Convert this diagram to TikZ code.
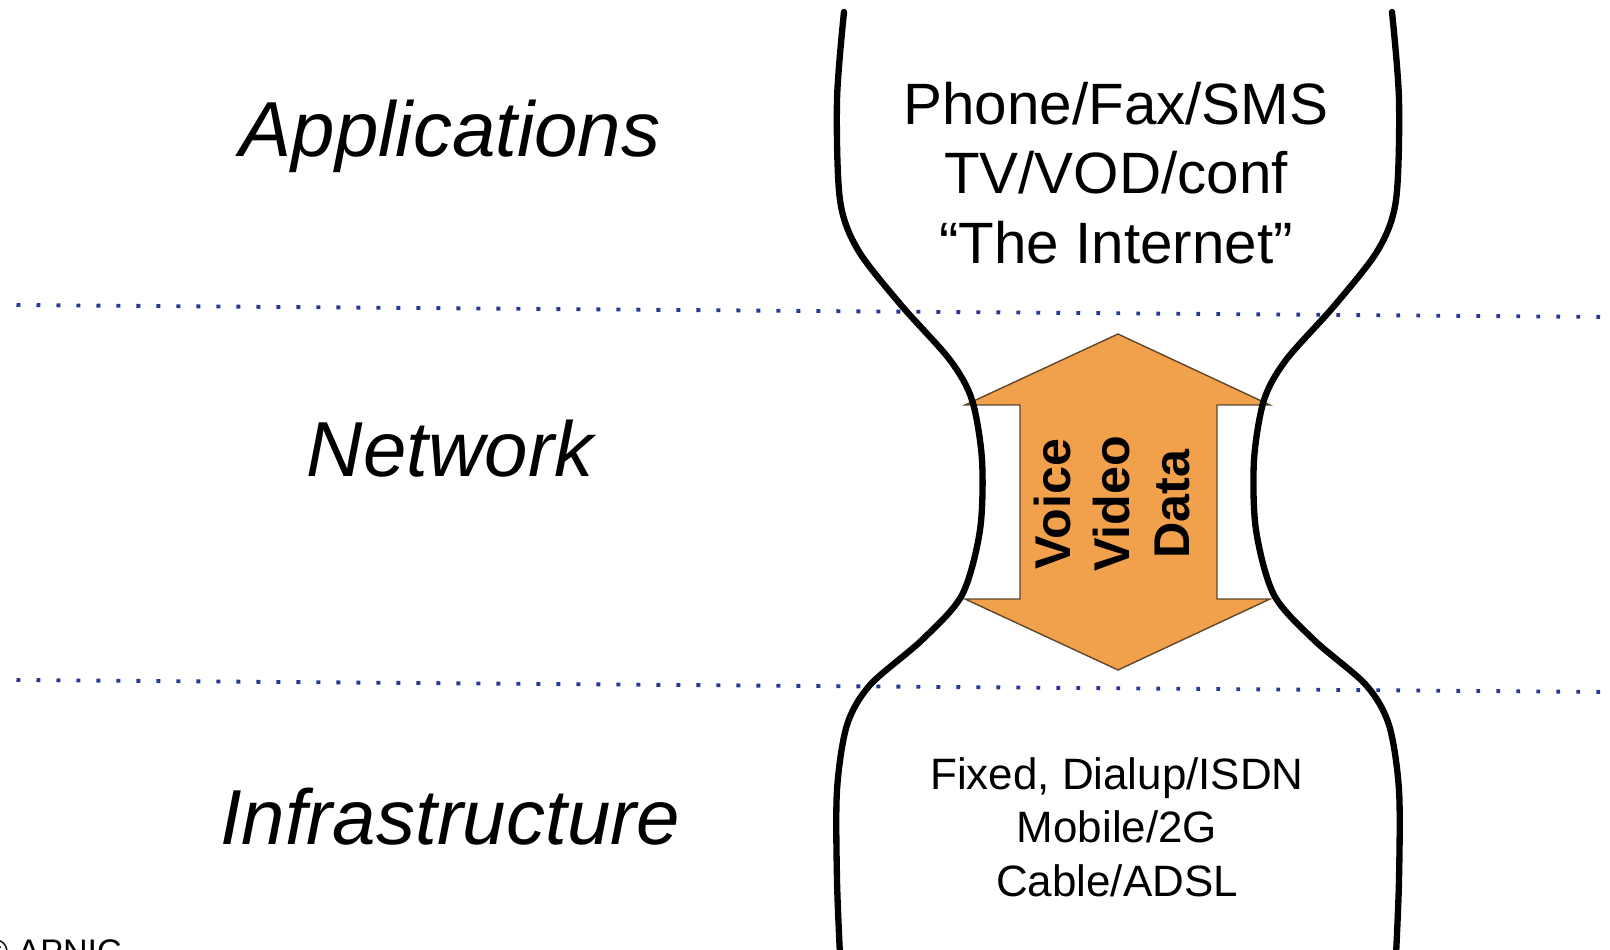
\documentclass[tikz,border=0pt]{standalone}
\usepackage{fontspec}
\setmainfont{Liberation Sans}
\definecolor{dotblue}{RGB}{40,55,150}
\definecolor{arroworange}{RGB}{241,161,76}
\definecolor{arrowedge}{RGB}{95,70,45}

\begin{document}
\begin{tikzpicture}[y=-1cm,
    layer/.style={font=\fontsize{22.2}{26}\selectfont\itshape,anchor=base},
    toptext/.style={font=\fontsize{16.6}{19.8}\selectfont,align=center},
    bottomtext/.style={font=\fontsize{12.5}{15.2}\selectfont,align=center},
    flowtext/.style={font=\fontsize{14.3}{16.8}\selectfont\bfseries,align=center,rotate=90},
    waist/.style={line width=1.8pt,line cap=round},
    border/.style={dotblue,line width=1.1pt,dash pattern=on 1.1pt off 4.59pt}]

    \useasboundingbox (0,0) rectangle (16.10,9.50);

    % layer names
    \node [layer] (apps) at (4.50,1.57) {Applications};
    \node [layer] (net)  at (4.50,4.77) {Network};
    \node [layer] (infra) at (4.50,8.44) {Infrastructure};

    % double arrow in the waist
    \draw [fill=arroworange,draw=arrowedge,line width=0.4pt]
        (9.65,4.05) -- (11.18,3.34) -- (12.70,4.05) -- (12.17,4.05) -- (12.17,5.99)
        -- (12.70,5.99) -- (11.18,6.70) -- (9.65,5.99) -- (10.20,5.99) -- (10.20,4.05) -- cycle;
    \node [flowtext] (flow) at (11.12,5.04) {Voice\\Video\\Data};

    % hourglass
    \draw [waist] plot [smooth] coordinates {(8.44,0.12) (8.37,1.00) (8.40,2.00) (8.58,2.50)
        (9.01,3.05) (9.50,3.60) (9.72,4.00) (9.82,4.60) (9.80,5.30) (9.62,5.95) (9.22,6.40)
        (8.70,6.85) (8.47,7.25) (8.37,7.90) (8.37,8.80) (8.40,9.55)};
    \draw [waist] plot [smooth] coordinates {(13.92,0.12) (13.99,1.00) (13.96,2.00) (13.78,2.50)
        (13.35,3.05) (12.86,3.60) (12.64,4.00) (12.54,4.60) (12.56,5.30) (12.74,5.95) (13.14,6.40)
        (13.66,6.85) (13.89,7.25) (13.99,7.90) (13.99,8.80) (13.96,9.55)};

    % layer borders
    \draw [border] (0.165,3.05) -- (16.10,3.17);
    \draw [border] (0.165,6.80) -- (16.10,6.92);

    \node [toptext] (services) at (11.16,1.73) {Phone/Fax/SMS\\TV/VOD/conf\\“The Internet”};
    \node [bottomtext] (access) at (11.17,8.27) {Fixed, Dialup/ISDN\\Mobile/2G\\Cable/ADSL};

    \node [font=\fontsize{9.7}{11}\selectfont,anchor=base west,inner sep=0pt] (credit) at (-0.177,9.63) {© APNIC};

\end{tikzpicture}
\end{document}
